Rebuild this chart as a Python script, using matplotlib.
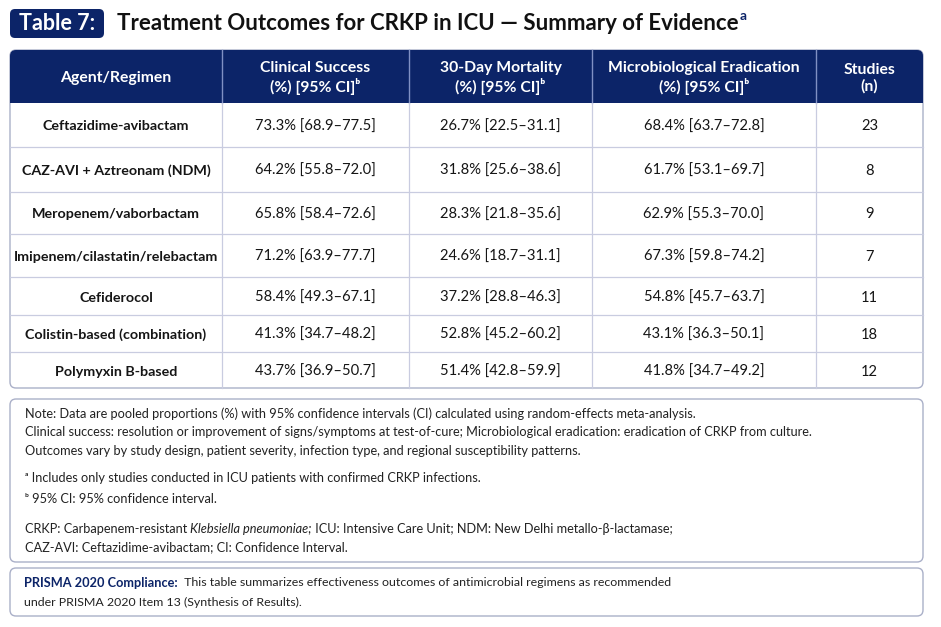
import matplotlib
matplotlib.use("Agg")
import matplotlib.pyplot as plt
from matplotlib.patches import FancyBboxPatch, Rectangle

NAVY = "#0c2468"
GRID = "#c9cce0"
BORDER = "#aab0c8"

# ---- data ----
agents = ["Ceftazidime-avibactam", "CAZ-AVI + Aztreonam (NDM)", "Meropenem/vaborbactam",
          "Imipenem/cilastatin/relebactam", "Cefiderocol", "Colistin-based (combination)",
          "Polymyxin B-based"]
clinical = ["73.3% [68.9–77.5]", "64.2% [55.8–72.0]", "65.8% [58.4–72.6]", "71.2% [63.9–77.7]",
            "58.4% [49.3–67.1]", "41.3% [34.7–48.2]", "43.7% [36.9–50.7]"]
mortality = ["26.7% [22.5–31.1]", "31.8% [25.6–38.6]", "28.3% [21.8–35.6]", "24.6% [18.7–31.1]",
             "37.2% [28.8–46.3]", "52.8% [45.2–60.2]", "51.4% [42.8–59.9]"]
eradication = ["68.4% [63.7–72.8]", "61.7% [53.1–69.7]", "62.9% [55.3–70.0]", "67.3% [59.8–74.2]",
               "54.8% [45.7–63.7]", "43.1% [36.3–50.1]", "41.8% [34.7–49.2]"]
studies = [23, 8, 9, 7, 11, 18, 12]
headers = ["Agent/Regimen", "Clinical Success\n(%) [95% CI]ᵇ", "30-Day Mortality\n(%) [95% CI]ᵇ",
           "Microbiological Eradication\n(%) [95% CI]ᵇ", "Studies\n(n)"]

col_edges = [10, 222, 409, 592, 816, 923]
row_edges = [103, 147, 192, 234, 277, 315, 352, 388]
head_top = 50

FONT = ["Lato", "DejaVu Sans"]
plt.rcParams["font.family"] = FONT

W, H = 941, 627
fig = plt.figure(figsize=(W / 100, H / 100), dpi=100)
ax = fig.add_axes([0, 0, 1, 1])
ax.set_xlim(0, W)
ax.set_ylim(H, 0)
ax.axis("off")
renderer = fig.canvas.get_renderer()


def text_width(t):
    bb = t.get_window_extent(renderer=renderer)
    return bb.width


def runs(x, y, parts, va="center"):
    # draw consecutive text pieces with different styles on one line
    for s, kw in parts:
        t = ax.text(x, y, s, ha="left", va=va, **kw)
        x += text_width(t)
    return x


# ---- title ----
ax.add_patch(FancyBboxPatch((10, 9), 94, 29, boxstyle="round,pad=0,rounding_size=5",
                            fc=NAVY, ec="none"))
ax.text(57, 24, "Table 7:", color="white", fontsize=15.5, fontweight="bold",
        ha="center", va="center")
tt = ax.text(117, 24, "Treatment Outcomes for CRKP in ICU — Summary of Evidence",
             color="#111111", fontsize=16, fontweight="bold", ha="left", va="center")
ax.text(117 + text_width(tt) + 1, 16, "a", color=NAVY, fontsize=10, fontweight="bold",
        ha="left", va="center")

# ---- table ----
tbl = FancyBboxPatch((col_edges[0], head_top), col_edges[-1] - col_edges[0],
                     row_edges[-1] - head_top, boxstyle="round,pad=0,rounding_size=6",
                     fc="white", ec=BORDER, lw=1.0, zorder=1)
ax.add_patch(tbl)
hdr = Rectangle((col_edges[0], head_top), col_edges[-1] - col_edges[0], row_edges[0] - head_top,
                fc=NAVY, ec="none", zorder=2)
ax.add_patch(hdr)
hdr.set_clip_path(tbl)

for i, h in enumerate(headers):
    cx = (col_edges[i] + col_edges[i + 1]) / 2
    ax.text(cx, (head_top + row_edges[0]) / 2 + 1.5, h, color="white", fontsize=11.3,
            fontweight="bold", ha="center", va="center", linespacing=1.2, zorder=4)

for x in col_edges[1:-1]:
    ax.plot([x, x], [head_top, row_edges[0]], color="#8090c4", lw=1.0, zorder=3)
    ax.plot([x, x], [row_edges[0], row_edges[-1]], color=GRID, lw=0.9, zorder=3)
for y in row_edges[1:-1]:
    ax.plot([col_edges[0], col_edges[-1]], [y, y], color=GRID, lw=0.9, zorder=3)

for r in range(len(agents)):
    cy = (row_edges[r] + row_edges[r + 1]) / 2 + 1.5
    vals = [agents[r], clinical[r], mortality[r], eradication[r], str(studies[r])]
    for c, v in enumerate(vals):
        cx = (col_edges[c] + col_edges[c + 1]) / 2
        ax.text(cx, cy, v, color="#151515", fontsize=10.3 if c == 0 else 10.6,
                ha="center", va="center",
                fontweight="bold" if c == 0 else "normal", zorder=4)

# ---- notes box ----
ax.add_patch(FancyBboxPatch((10, 399), 913, 163, boxstyle="round,pad=0,rounding_size=6",
                            fc="white", ec=BORDER, lw=1.0))
nfs = 9.2
nc = "#222222"
note_lines = [
    (414, "Note: Data are pooled proportions (%) with 95% confidence intervals (CI) calculated using random-effects meta-analysis."),
    (432, "Clinical success: resolution or improvement of signs/symptoms at test-of-cure; Microbiological eradication: eradication of CRKP from culture."),
    (451, "Outcomes vary by study design, patient severity, infection type, and regional susceptibility patterns."),
    (478, "ᵃ Includes only studies conducted in ICU patients with confirmed CRKP infections."),
    (499, "ᵇ 95% CI: 95% confidence interval."),
    (547, "CAZ-AVI: Ceftazidime-avibactam; CI: Confidence Interval."),
]
for y, s in note_lines:
    ax.text(25, y, s, fontsize=nfs, color=nc, ha="left", va="center")
runs(25, 529, [("CRKP: Carbapenem-resistant ", dict(fontsize=nfs, color=nc)),
               ("Klebsiella pneumoniae;", dict(fontsize=nfs, color=nc, style="italic")),
               (" ICU: Intensive Care Unit; NDM: New Delhi metallo-β-lactamase;",
                dict(fontsize=nfs, color=nc))])

# ---- PRISMA box ----
ax.add_patch(FancyBboxPatch((10, 568), 913, 48, boxstyle="round,pad=0,rounding_size=6",
                            fc="white", ec=BORDER, lw=1.0))
runs(24, 583, [("PRISMA 2020 Compliance:", dict(fontsize=9.2, color=NAVY, fontweight="bold")),
               ("  This table summarizes effectiveness outcomes of antimicrobial regimens as recommended",
                dict(fontsize=8.9, color=nc))])
ax.text(24, 602, "under PRISMA 2020 Item 13 (Synthesis of Results).", fontsize=8.9, color=nc,
        ha="left", va="center")

fig.savefig("out.png", dpi=100)
